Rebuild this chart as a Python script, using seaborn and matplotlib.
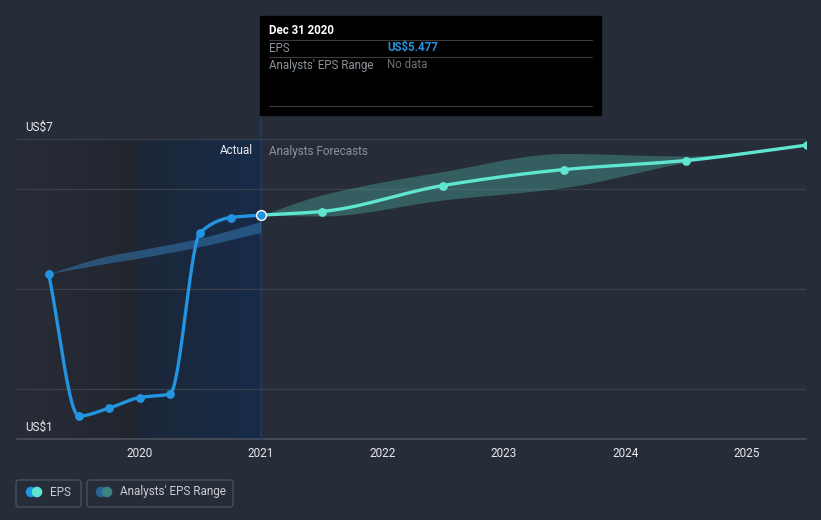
import numpy as np
import pandas as pd
import matplotlib
matplotlib.use("Agg")
import matplotlib.pyplot as plt
import seaborn as sns
from matplotlib.patches import Rectangle, FancyBboxPatch, Circle
from matplotlib.transforms import IdentityTransform

# ───────────────────────────────────────────────
# Data
# ───────────────────────────────────────────────
actual_x = [2019.25, 2019.5, 2019.75, 2020.0, 2020.25, 2020.5, 2020.75, 2021.0]
actual_eps = [4.31, 1.46, 1.62, 1.83, 1.90, 5.13, 5.43, 5.477]

forecast_x = [2021.0, 2021.5, 2022.5, 2023.5, 2024.5, 2025.5]
forecast_eps = [5.477, 5.55, 6.07, 6.39, 6.57, 6.88]
forecast_low = [5.477, 5.46, 5.78, 6.03, 6.53, 6.88]
forecast_high = [5.477, 5.88, 6.35, 6.71, 6.66, 6.88]

past_range_x = [2019.25, 2019.75, 2020.0, 2020.5, 2021.0]
past_range_low = [4.31, 4.52, 4.62, 4.85, 5.13]
past_range_high = [4.31, 4.67, 4.78, 5.02, 5.35]

year_ticks = [2020, 2021, 2022, 2023, 2024, 2025]

# ───────────────────────────────────────────────
# Colours
# ───────────────────────────────────────────────
BG = '#262c38'
GRID = '#3a404c'
EPS_BLUE = '#2394df'
EPS_CYAN = '#5fe5d0'
TXT = '#e8eaed'
TXT_DIM = '#8d939c'


def monotone(x, y, n=300):
    """Monotone cubic (Fritsch-Carlson) curve through the points, for drawing only."""
    x = np.asarray(x, float)
    y = np.asarray(y, float)
    h = np.diff(x)
    d = np.diff(y) / h
    m = np.zeros_like(y)
    m[0], m[-1] = d[0], d[-1]
    for i in range(1, len(x) - 1):
        if d[i - 1] * d[i] <= 0:
            m[i] = 0
        else:
            w1 = 2 * h[i] + h[i - 1]
            w2 = h[i] + 2 * h[i - 1]
            m[i] = (w1 + w2) / (w1 / d[i - 1] + w2 / d[i])
    xs = np.linspace(x[0], x[-1], n)
    idx = np.clip(np.searchsorted(x, xs) - 1, 0, len(x) - 2)
    t = (xs - x[idx]) / h[idx]
    h00 = 2 * t**3 - 3 * t**2 + 1
    h10 = t**3 - 2 * t**2 + t
    h01 = -2 * t**3 + 3 * t**2
    h11 = t**3 - t**2
    ys = h00 * y[idx] + h10 * h[idx] * m[idx] + h01 * y[idx + 1] + h11 * h[idx] * m[idx + 1]
    return xs, ys


sns.set_theme(style='dark')
plt.rcParams['font.family'] = ['Roboto', 'DejaVu Sans']

X0, X1 = 2018.99, 2025.49

fig = plt.figure(figsize=(8.21, 5.2), dpi=100)
fig.patch.set_facecolor(BG)
ax = fig.add_axes([17 / 821, 81 / 520, 789 / 821, 300 / 520])
ax.set_facecolor(BG)

# ─── Background shading: past (dark) and last year (blue) ───
grad = np.linspace(0, 1, 256).reshape(1, -1)
dark_cmap = matplotlib.colors.LinearSegmentedColormap.from_list('d', ['#272c37', '#20252e'])
blue_cmap = matplotlib.colors.LinearSegmentedColormap.from_list('b', ['#1c2738', '#172b49'])
ax.imshow(grad, cmap=dark_cmap, extent=[X0, 2020.0, 1, 7], aspect='auto', zorder=0)
ax.imshow(grad, cmap=blue_cmap, extent=[2020.0, 2021.0, 1, 7], aspect='auto', zorder=0)
ax.set_xlim(X0, X1)
ax.set_ylim(1, 7)

# Grid lines
for yv in [2, 4, 6, 7]:
    ax.axhline(yv, color=GRID, lw=0.9, zorder=1)
ax.axhline(1, color='#4a505c', lw=1.2, zorder=1, clip_on=False)

# "Today" line
ax.plot([2021.0, 2021.0], [1, 7.48], color='#1e3c64', lw=1.2, zorder=2, clip_on=False)

# ─── Analysts' range bands ───
px, plo = monotone(past_range_x, past_range_low)
_, phi = monotone(past_range_x, past_range_high)
ax.fill_between(px, plo, phi, color='#3378b0', alpha=0.55, lw=0, zorder=2)

fx, flo = monotone(forecast_x, forecast_low)
_, fhi = monotone(forecast_x, forecast_high)
ax.fill_between(fx, flo, fhi, color=EPS_CYAN, alpha=0.27, lw=0, zorder=2)

# ─── EPS lines ───
ax_x, ax_y = monotone(actual_x, actual_eps)
sns.lineplot(x=ax_x, y=ax_y, ax=ax, color=EPS_BLUE, lw=2.4, zorder=4, sort=False)
fx2, fy2 = monotone(forecast_x, forecast_eps)
sns.lineplot(x=fx2, y=fy2, ax=ax, color=EPS_CYAN, lw=2.4, zorder=4, sort=False)

sns.scatterplot(x=actual_x[:-1], y=actual_eps[:-1], ax=ax, color=EPS_BLUE, s=40,
                linewidth=0, zorder=5)
sns.scatterplot(x=forecast_x[1:], y=forecast_eps[1:], ax=ax, color=EPS_CYAN, s=40,
                linewidth=0, zorder=5)
ax.scatter([actual_x[-1]], [actual_eps[-1]], color=EPS_BLUE, s=50, edgecolor='white',
           linewidth=1.0, zorder=6)

# Actual / Forecast labels
ax.annotate('Actual', (2021.0, 6.76), xytext=(-6, 0), textcoords='offset points',
            ha='right', va='center', color=TXT, fontsize=8.5)
ax.annotate('Analysts Forecasts', (2021.0, 6.76), xytext=(6, 0), textcoords='offset points',
            ha='left', va='center', color=TXT_DIM, fontsize=8.5)

# Axes cosmetics
ax.set_xticks(year_ticks)
ax.set_xticklabels([str(y) for y in year_ticks], color=TXT, fontsize=8.5)
ax.tick_params(axis='x', length=0, pad=6)
ax.set_yticks([])
ax.grid(False)
for s in ax.spines.values():
    s.set_visible(False)

fig.text(25 / 821, 1 - 127 / 520, 'US$7', color=TXT, fontsize=8.5, va='center')
fig.text(25 / 821, 1 - 427 / 520, 'US$1', color=TXT, fontsize=8.5, va='center')

# ─── Tooltip ───
H = 520
fig.patches.append(Rectangle((260 / 821, 1 - 115 / H), 341 / 821, 99 / H,
                             transform=fig.transFigure, color='black', zorder=10))
for yl in [40, 57, 106]:
    fig.add_artist(plt.Line2D([269 / 821, 592 / 821], [1 - yl / H] * 2, color='#3c3c3c',
                              lw=0.8, zorder=11))
fig.text(269 / 821, 1 - 31 / H, 'Dec 31 2020', color='white', fontsize=8.3, fontweight='bold',
         va='center', zorder=12)
fig.text(269 / 821, 1 - 48 / H, 'EPS', color=TXT_DIM, fontsize=8.3, va='center', zorder=12)
fig.text(387 / 821, 1 - 48 / H, 'US$5.477', color=EPS_BLUE, fontsize=8.3, fontweight='bold',
         va='center', zorder=12)
fig.text(269 / 821, 1 - 65 / H, "Analysts' EPS Range", color=TXT_DIM, fontsize=8.3,
         va='center', zorder=12)
fig.text(387 / 821, 1 - 65 / H, 'No data', color='#6b7078', fontsize=8.3, va='center', zorder=12)

# ─── Legend boxes ───
ident = IdentityTransform()
for (x0, x1) in [(16, 81), (87, 233)]:
    fig.patches.append(FancyBboxPatch((x0, H - 507), x1 - x0, 27,
                                      boxstyle='round,pad=0,rounding_size=3',
                                      transform=ident, facecolor='none',
                                      edgecolor='#4a505c', lw=1))
cy = H - 492
for cx, col in [(31, EPS_BLUE), (37, EPS_CYAN), (101, '#2a6496'), (107, '#3e8383')]:
    fig.patches.append(Circle((cx, cy), 4.6, transform=ident, color=col))
fig.text(50 / 821, 1 - 492 / H, 'EPS', color='#c9ccd1', fontsize=8.5, va='center')
fig.text(120 / 821, 1 - 492 / H, "Analysts' EPS Range", color='#c9ccd1', fontsize=8.5,
         va='center')

fig.savefig('out.png', dpi=100, facecolor=BG)
